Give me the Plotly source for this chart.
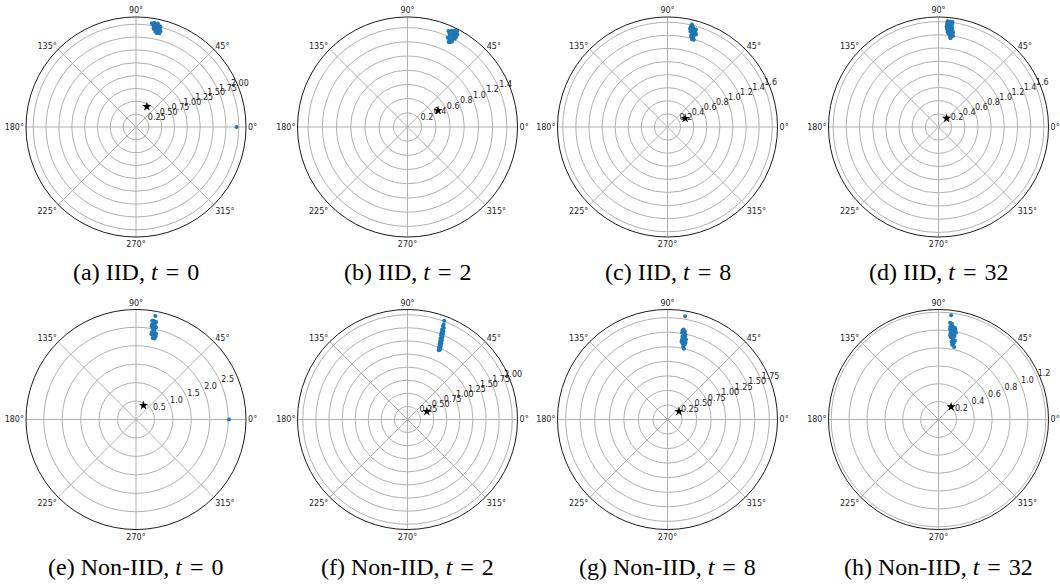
import plotly.graph_objects as go

W, H = 1060, 588

# ---------------- data ----------------
captions = ["(a) IID, <i>t</i>\u2004=\u20040", "(b) IID, <i>t</i>\u2004=\u20042", "(c) IID, <i>t</i>\u2004=\u20048",
            "(d) IID, <i>t</i>\u2004=\u200432",
            "(e) Non-IID, <i>t</i>\u2004=\u20040", "(f) Non-IID, <i>t</i>\u2004=\u20042",
            "(g) Non-IID, <i>t</i>\u2004=\u20048", "(h) Non-IID, <i>t</i>\u2004=\u200432"]

r_max = [2.14, 1.55, 1.68, 1.67, 2.98, 2.10, 1.89, 1.23]
r_ticks = [
    [0.25, 0.50, 0.75, 1.00, 1.25, 1.50, 1.75, 2.00],
    [0.2, 0.4, 0.6, 0.8, 1.0, 1.2, 1.4],
    [0.2, 0.4, 0.6, 0.8, 1.0, 1.2, 1.4, 1.6],
    [0.2, 0.4, 0.6, 0.8, 1.0, 1.2, 1.4, 1.6],
    [0.5, 1.0, 1.5, 2.0, 2.5],
    [0.25, 0.50, 0.75, 1.00, 1.25, 1.50, 1.75, 2.00],
    [0.25, 0.50, 0.75, 1.00, 1.25, 1.50, 1.75],
    [0.2, 0.4, 0.6, 0.8, 1.0, 1.2],
]
r_ticklabels = [
    ["0.25", "0.50", "0.75", "1.00", "1.25", "1.50", "1.75", "2.00"],
    ["0.2", "0.4", "0.6", "0.8", "1.0", "1.2", "1.4"],
    ["0.2", "0.4", "0.6", "0.8", "1.0", "1.2", "1.4", "1.6"],
    ["0.2", "0.4", "0.6", "0.8", "1.0", "1.2", "1.4", "1.6"],
    ["0.5", "1.0", "1.5", "2.0", "2.5"],
    ["0.25", "0.50", "0.75", "1.00", "1.25", "1.50", "1.75", "2.00"],
    ["0.25", "0.50", "0.75", "1.00", "1.25", "1.50", "1.75"],
    ["0.2", "0.4", "0.6", "0.8", "1.0", "1.2"],
]
ang_ticks = [0, 45, 90, 135, 180, 225, 270, 315]
ang_labels = ["0°", "45°", "90°", "135°", "180°", "225°", "270°", "315°"]
rlabel_angle = 22.5

# client points (angle in degrees, radius)
theta_a = [81.3, 80.0, 80.5, 79.0, 77.6, 79.8, 78.4, 77.0, 76.3, 79.0, 77.6, 76.2, 78.2, 76.7, 75.7,
           77.4, 76.0, 79.9, 78.1, 78.5, 0.0]
r_a = [2.04, 2.06, 2.01, 2.03, 2.03, 1.97, 1.98, 1.99, 2.01, 1.94, 1.94, 1.96, 1.90, 1.90, 1.92,
       1.87, 1.88, 1.94, 2.06, 1.89, 1.955]
theta_b = [66.9, 65.5, 63.9, 62.6, 65.8, 64.3, 62.7, 61.6, 65.0, 63.3, 61.7, 64.6, 62.9, 61.8, 64.0,
           62.5, 64.2, 63.1, 65.7, 63.9]
r_b = [1.47, 1.49, 1.51, 1.52, 1.44, 1.46, 1.47, 1.48, 1.41, 1.43, 1.44, 1.38, 1.39, 1.41, 1.35,
       1.36, 1.33, 1.34, 1.38, 1.49]
theta_c = [76.6, 76.9, 75.8, 76.3, 74.9, 73.7, 76.5, 75.1, 73.6, 75.5, 74.1, 72.9, 75.4, 73.9, 74.4,
           73.2, 77.1, 74.2]
r_c = [1.61, 1.58, 1.58, 1.55, 1.55, 1.55, 1.50, 1.51, 1.51, 1.46, 1.47, 1.48, 1.43, 1.43, 1.39,
       1.39, 1.54, 1.51]
theta_d = [85.1, 83.7, 82.4, 85.3, 83.9, 82.5, 85.4, 84.0, 82.3, 85.0, 83.5, 81.8, 84.6, 82.8, 81.2,
           83.8, 82.0, 82.7, 82.3, 80.9]
r_d = [1.61, 1.61, 1.61, 1.57, 1.57, 1.57, 1.53, 1.53, 1.53, 1.49, 1.49, 1.49, 1.45, 1.45, 1.45,
       1.42, 1.42, 1.38, 1.36, 1.40]
theta_e = [80.7, 79.6, 78.3, 80.4, 78.9, 77.7, 79.7, 78.3, 79.6, 77.5, 78.6, 76.8, 78.5, 77.1, 76.8,
           79.6, 78.8, 78.9, 80.5, 79.7, 79.4, 0.0]
r_e = [2.71, 2.71, 2.70, 2.62, 2.61, 2.56, 2.52, 2.48, 2.41, 2.40, 2.34, 2.32, 2.25, 2.25, 2.38,
       2.58, 2.67, 2.49, 2.56, 2.35, 2.85, 2.52]
theta_f = [69.6, 69.2, 69.1, 68.3, 69.0, 67.9, 68.7, 67.5, 68.3, 67.0, 67.8, 66.5, 67.4, 66.0, 66.9,
           65.5, 66.4, 65.1, 65.7, 65.1, 67.7, 68.2, 66.9]
r_f = [2.01, 1.94, 1.90, 1.88, 1.84, 1.82, 1.78, 1.77, 1.73, 1.71, 1.67, 1.65, 1.61, 1.60, 1.56,
       1.54, 1.50, 1.49, 1.45, 1.47, 1.73, 1.80, 1.63]
theta_g = [80.3, 80.4, 78.8, 79.5, 78.0, 79.8, 78.2, 79.7, 78.1, 76.8, 78.8, 77.1, 77.9, 76.9, 80.5,
           77.0, 79.8, 79.9, 78.1]
r_g = [1.80, 1.55, 1.54, 1.51, 1.49, 1.45, 1.43, 1.40, 1.38, 1.36, 1.33, 1.32, 1.28, 1.25, 1.51,
       1.41, 1.36, 1.57, 1.46]
theta_h = [83.1, 83.2, 82.0, 82.7, 81.1, 82.8, 79.8, 81.4, 80.0, 82.1, 78.6, 80.3, 79.1, 81.4, 79.8,
           78.2, 80.5, 78.8, 79.7, 77.9, 79.3, 82.2]
r_h = [1.175, 1.09, 1.08, 1.05, 1.05, 1.02, 1.04, 1.01, 1.00, 0.98, 0.99, 0.96, 0.95, 0.93, 0.915,
       0.90, 0.885, 0.87, 0.85, 0.83, 1.02, 0.95]

client_theta = [theta_a, theta_b, theta_c, theta_d, theta_e, theta_f, theta_g, theta_h]
client_r = [r_a, r_b, r_c, r_d, r_e, r_f, r_g, r_h]

# global model (black star)
star_theta = [62, 28.5, 26, 47, 62, 22.5, 35, 45]
star_r = [0.45, 0.49, 0.30, 0.18, 0.43, 0.40, 0.24, 0.20]

# ---------------- layout ----------------
centers_x = [136, 407.5, 667.5, 938.5]
centers_y = [127, 419.5]
R = 110
caption_y = [272, 567]
tick_font = dict(family="DejaVu Sans", size=8, color="#222")

fig = go.Figure()
layout = dict(width=W, height=H, margin=dict(l=0, r=0, t=0, b=0),
              paper_bgcolor="white", showlegend=False, annotations=[])

for i in range(8):
    row, col = divmod(i, 4)
    cx, cy = centers_x[col], centers_y[row]
    name = "polar" if i == 0 else f"polar{i+1}"
    sub = "polar" if i == 0 else f"polar{i+1}"
    layout[name] = dict(
        domain=dict(x=[(cx - R) / W, (cx + R) / W], y=[1 - (cy + R) / H, 1 - (cy - R) / H]),
        bgcolor="white",
        angularaxis=dict(rotation=0, direction="counterclockwise", tickmode="array",
                         tickvals=ang_ticks, ticktext=ang_labels, showgrid=True,
                         gridcolor="#b0b0b0", gridwidth=0.8, showline=True, linecolor="#000000",
                         linewidth=0.9, ticks="", tickfont=tick_font),
        radialaxis=dict(range=[0, r_max[i]], tickmode="array", tickvals=r_ticks[i],
                        showticklabels=False, angle=rlabel_angle,
                        showline=False, ticks="",
                        showgrid=True, gridcolor="#b0b0b0", gridwidth=0.8),
    )
    # radial tick labels, placed at the tick radii along the label angle
    fig.add_trace(go.Scatterpolar(theta=[rlabel_angle] * len(r_ticks[i]), r=r_ticks[i],
                                  mode="text", text=r_ticklabels[i], textposition="top right",
                                  textfont=tick_font, subplot=sub, cliponaxis=False,
                                  hoverinfo="skip"))
    fig.add_trace(go.Scatterpolar(theta=client_theta[i], r=client_r[i], mode="markers",
                                  marker=dict(color="#1f77b4", size=4), subplot=sub, cliponaxis=False))
    fig.add_trace(go.Scatterpolar(theta=[star_theta[i]], r=[star_r[i]], mode="markers",
                                  marker=dict(color="black", size=7, symbol="star"), subplot=sub))
    layout["annotations"].append(dict(text=captions[i], x=cx / W, y=1 - caption_y[row] / H,
                                      xref="paper", yref="paper", showarrow=False,
                                      xanchor="center", yanchor="middle",
                                      font=dict(family="Liberation Serif", size=24, color="black")))

fig.update_layout(**layout)
fig.write_html("out.html")
